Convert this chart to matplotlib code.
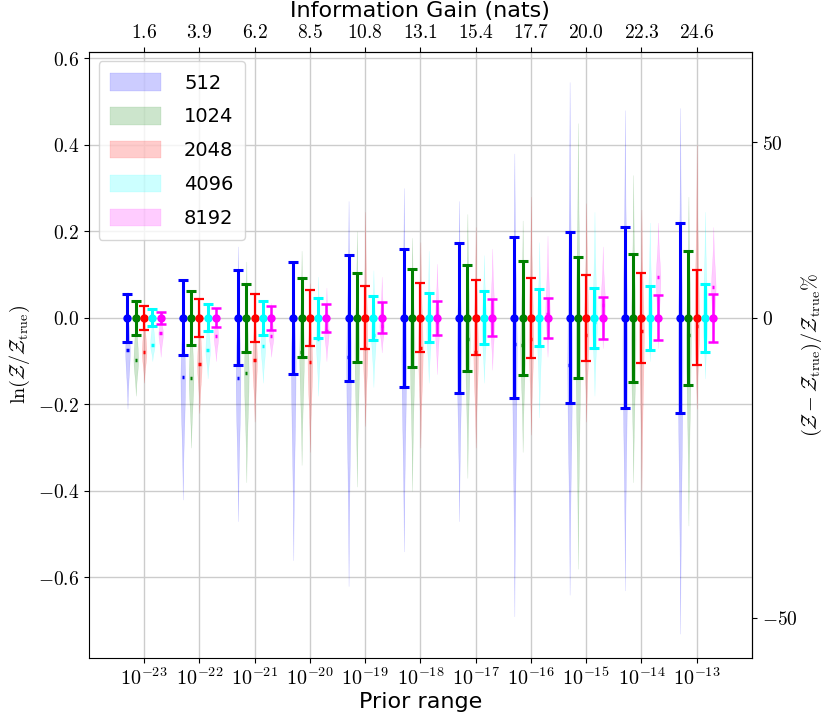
import numpy as np
import matplotlib
matplotlib.use('Agg')
import matplotlib.pyplot as plt

plt.rcParams['mathtext.fontset'] = 'cm'
plt.rcParams['font.family'] = ['DejaVu Sans']

# x positions: prior ranges 1e-23 .. 1e-13, top axis = information gain
prior_exp = [-23, -22, -21, -20, -19, -18, -17, -16, -15, -14, -13]
info_gain = [1.6, 3.9, 6.2, 8.5, 10.8, 13.1, 15.4, 17.7, 20.0, 22.3, 24.6]
nlive = [512, 1024, 2048, 4096, 8192]
colors = ['blue', 'green', 'red', 'cyan', 'magenta']
offsets = [-0.3, -0.15, 0.0, 0.15, 0.3]

# error bar half widths (ln Z)
err_512 = [0.056, 0.087, 0.110, 0.129, 0.145, 0.160, 0.173, 0.186, 0.198, 0.209, 0.219]
err_1024 = [0.040, 0.062, 0.078, 0.091, 0.103, 0.113, 0.123, 0.132, 0.140, 0.148, 0.155]
err_2048 = [0.028, 0.044, 0.055, 0.064, 0.073, 0.080, 0.087, 0.093, 0.099, 0.104, 0.110]
err_4096 = [0.020, 0.031, 0.039, 0.046, 0.051, 0.057, 0.061, 0.066, 0.070, 0.074, 0.078]
err_8192 = [0.014, 0.022, 0.028, 0.032, 0.036, 0.040, 0.043, 0.047, 0.049, 0.052, 0.055]

# violin extents and means
vmin_512 = [-0.21, -0.42, -0.47, -0.56, -0.62, -0.54, -0.47, -0.69, -0.64, -0.63, -0.73]
vmin_1024 = [-0.18, -0.30, -0.38, -0.34, -0.39, -0.40, -0.37, -0.31, -0.58, -0.38, -0.48]
vmin_2048 = [-0.15, -0.22, -0.24, -0.31, -0.25, -0.30, -0.30, -0.27, -0.24, -0.40, -0.21]
vmin_4096 = [-0.10, -0.14, -0.15, -0.18, -0.16, -0.15, -0.15, -0.23, -0.18, -0.10, -0.14]
vmin_8192 = [-0.09, -0.10, -0.09, -0.10, -0.08, -0.13, -0.12, -0.09, -0.07, -0.07, -0.06]

vmax_512 = [0.06, 0.09, 0.165, 0.13, 0.27, 0.30, 0.27, 0.38, 0.545, 0.48, 0.485]
vmax_1024 = [0.04, 0.06, 0.13, 0.155, 0.20, 0.185, 0.24, 0.225, 0.45, 0.33, 0.28]
vmax_2048 = [0.03, 0.045, 0.06, 0.08, 0.245, 0.175, 0.21, 0.28, 0.265, 0.25, 0.40]
vmax_4096 = [0.02, 0.03, 0.04, 0.095, 0.11, 0.155, 0.145, 0.175, 0.245, 0.22, 0.245]
vmax_8192 = [0.015, 0.022, 0.035, 0.07, 0.095, 0.125, 0.16, 0.19, 0.165, 0.22, 0.21]

vmean_512 = [-0.074, -0.136, -0.138, -0.10, -0.09, -0.089, -0.07, -0.06, -0.11, -0.062, -0.095]
vmean_1024 = [-0.097, -0.139, -0.127, -0.08, -0.07, -0.06, -0.05, -0.062, -0.058, -0.05, -0.04]
vmean_2048 = [-0.079, -0.106, -0.097, -0.103, -0.07, -0.07, -0.08, -0.05, -0.04, -0.03, -0.02]
vmean_4096 = [-0.062, -0.074, -0.064, -0.05, -0.04, -0.03, -0.02, -0.02, -0.01, 0.0, 0.0]
vmean_8192 = [-0.035, -0.042, -0.042, -0.03, -0.02, -0.01, 0.0, 0.01, 0.03, 0.095, 0.072]

errs = [err_512, err_1024, err_2048, err_4096, err_8192]
vmins = [vmin_512, vmin_1024, vmin_2048, vmin_4096, vmin_8192]
vmaxs = [vmax_512, vmax_1024, vmax_2048, vmax_4096, vmax_8192]
vmeans = [vmean_512, vmean_1024, vmean_2048, vmean_4096, vmean_8192]

# rough violin outline (relative width), min->mean and mean->max
shape_lo = [0.0, 0.1, 0.25, 0.45, 0.7, 0.9, 1.0]
shape_hi = [1.0, 0.8, 0.5, 0.25, 0.1, 0.0]

fig = plt.figure(figsize=(8.3, 7.19), dpi=100)
ax = fig.add_axes([0.107, 0.085, 0.799, 0.843])

x = np.arange(len(prior_exp))
handles = []
for k in range(len(nlive)):
    stats = []
    for i in range(len(x)):
        lo = np.linspace(vmins[k][i], vmeans[k][i], len(shape_lo))
        hi = np.linspace(vmeans[k][i], vmaxs[k][i], len(shape_hi))[1:]
        stats.append({'coords': np.concatenate([lo, hi]),
                      'vals': np.array(shape_lo + shape_hi[1:]),
                      'mean': vmeans[k][i], 'median': vmeans[k][i],
                      'min': vmins[k][i], 'max': vmaxs[k][i]})
    vp = ax.violin(stats, positions=x + offsets[k], widths=0.085,
                   showmeans=True, showextrema=False)
    for b in vp['bodies']:
        b.set_facecolor(colors[k])
        b.set_edgecolor(colors[k])
        b.set_linewidth(0.3)
        b.set_alpha(0.2)
    vp['cmeans'].set_color(colors[k])
    vp['cmeans'].set_linewidth(2.5)
    handles.append(vp['bodies'][0])

lws = [2.2, 2.2, 1.6, 2.2, 1.8]
for k in range(len(nlive)):
    ax.errorbar(x + offsets[k], np.zeros(len(x)), yerr=errs[k], fmt='o',
                color=colors[k], ms=5, lw=lws[k], capsize=3.5, capthick=lws[k],
                zorder=5)

ax.set_xlim(-1, 11)
ax.set_ylim(-0.786, 0.615)
ax.grid(True, color='#cccccc', lw=1)
ax.set_axisbelow(True)

ax.set_xticks(x)
ax.set_xticklabels([r'$10^{%d}$' % e for e in prior_exp], fontsize=14.5)
yt = [0.6, 0.4, 0.2, 0.0, -0.2, -0.4, -0.6]
ax.set_yticks(yt)
ax.set_yticklabels([r'$%.1f$' % v for v in yt], fontsize=14)
ax.set_xlabel('Prior range', fontsize=16, labelpad=2)
ax.set_ylabel(r'$\ln(\mathcal{Z}/\mathcal{Z}_{\rm true})$', fontsize=14.5, labelpad=4)

top = ax.secondary_xaxis('top')
top.set_xticks(x)
top.set_xticklabels([r'$%.1f$' % g for g in info_gain], fontsize=14)
top.set_xlabel('Information Gain (nats)', fontsize=16, labelpad=4)

def to_pct(y):
    return 100 * (np.exp(y) - 1)

def from_pct(p):
    return np.log(np.clip(1 + np.asarray(p) / 100, 1e-6, None))

right = ax.secondary_yaxis('right', functions=(to_pct, from_pct))
right.set_yticks([50, 0, -50])
right.set_yticklabels([r'$50$', r'$0$', r'$-50$'], fontsize=14)
right.set_ylabel(r'$(\mathcal{Z}-\mathcal{Z}_{\rm true})/\mathcal{Z}_{\rm true}\%$',
                 fontsize=14.5, labelpad=2)

ax.legend(handles, [str(n) for n in nlive], loc='upper left', fontsize=14,
          handlelength=2.6, handleheight=1.0, labelspacing=0.75,
          handletextpad=1.2, borderpad=0.6)

fig.savefig('out.png', dpi=100)
